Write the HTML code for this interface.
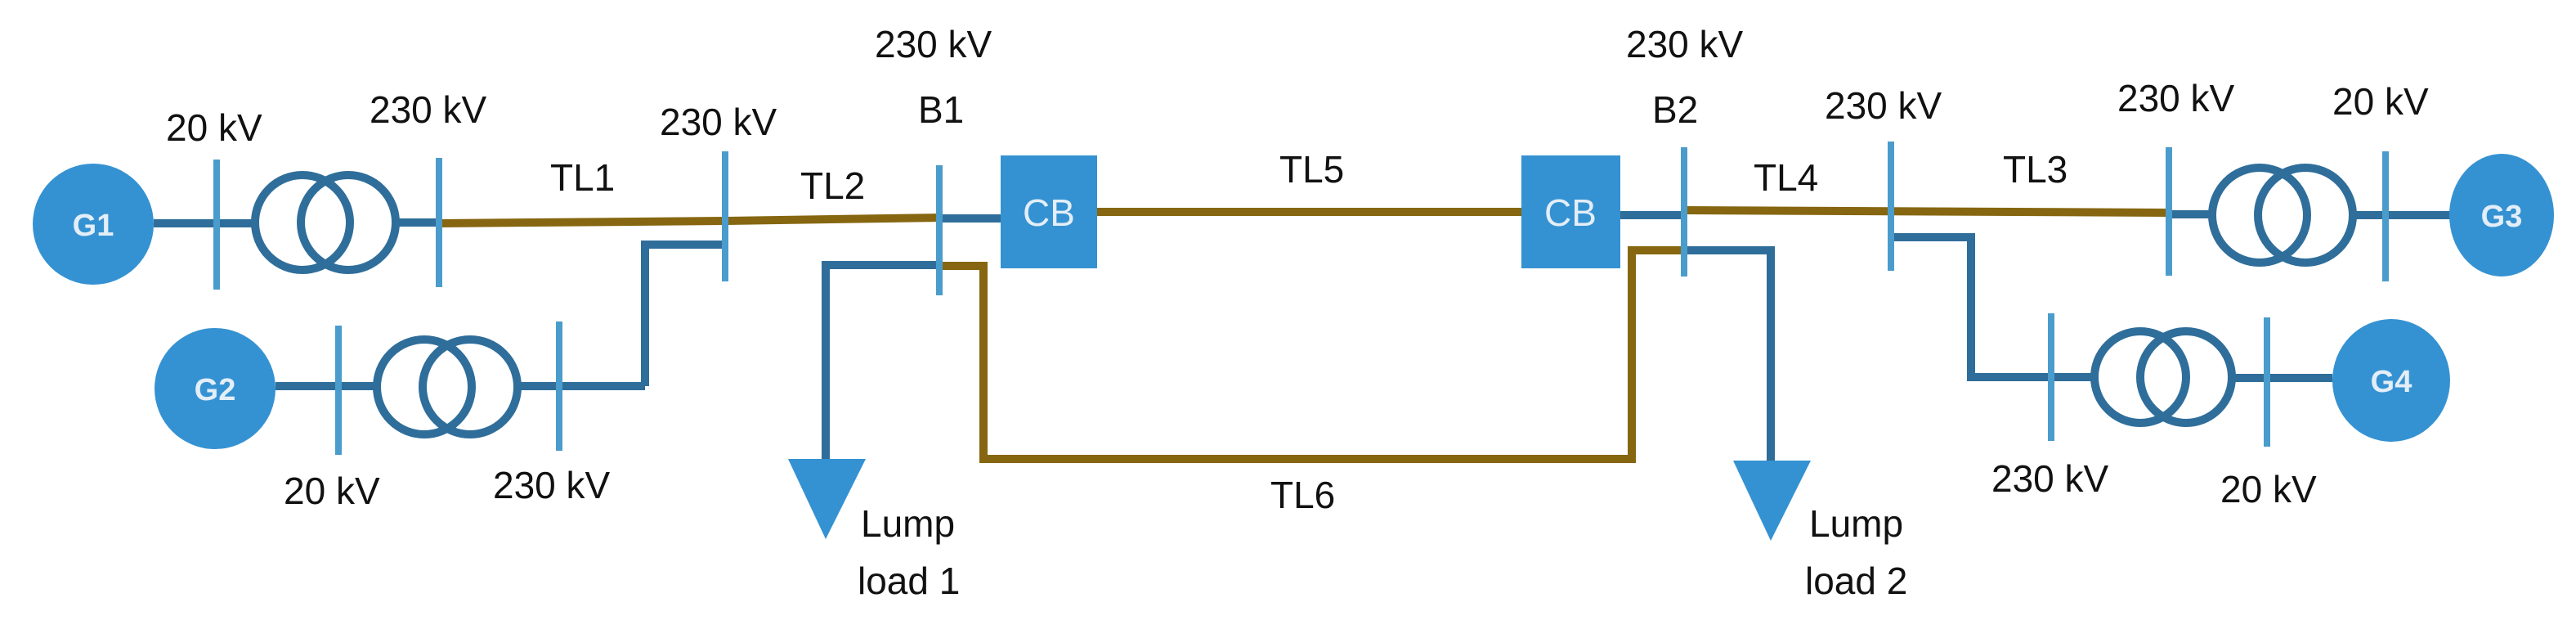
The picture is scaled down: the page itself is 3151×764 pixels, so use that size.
<!DOCTYPE html>
<html><head><meta charset="utf-8"><style>
html,body{margin:0;padding:0;background:#fff}
svg{display:block}
text{font-family:"Liberation Sans",sans-serif;font-size:46px;fill:#111}
.g{fill:#e3eef8;font-weight:bold;font-size:38px;text-anchor:middle}
.cb{fill:#e3eef8;font-size:46px;text-anchor:middle}
</style></head><body>
<svg width="3151" height="764" viewBox="0 0 3151 764" xmlns="http://www.w3.org/2000/svg">
<g fill="none" stroke-linejoin="miter">
<g stroke="#2f6e9a" stroke-width="10">
<line x1="188" y1="273" x2="312" y2="273"/>
<line x1="484" y1="272" x2="537" y2="272"/>
<line x1="337" y1="472" x2="459" y2="472"/>
<line x1="635" y1="472" x2="789" y2="472"/>
<polyline points="789,472 789,299 887,299"/>
<polyline points="1010,561 1010,324 1149,324"/>
<line x1="1149" y1="267" x2="1224" y2="267"/>
<line x1="1982" y1="263" x2="2059" y2="263"/>
<polyline points="2059,306 2166,306 2166,563"/>
<polyline points="2313,290 2411,290 2411,461 2562,461"/>
<line x1="2730" y1="462" x2="2853" y2="462"/>
<line x1="2653" y1="262" x2="2706" y2="262"/>
<line x1="2878" y1="263" x2="2997" y2="263"/>
<circle cx="370" cy="272" r="58"/><circle cx="426" cy="272" r="58"/>
<circle cx="519" cy="473" r="58"/><circle cx="575" cy="473" r="58"/>
<circle cx="2764" cy="263" r="58"/><circle cx="2820" cy="263" r="58"/>
<circle cx="2618" cy="461" r="56"/><circle cx="2674" cy="461" r="56"/>
</g>
<g stroke="#866610" stroke-width="10">
<polyline points="537,273 887,270 1149,266"/>
<line x1="1342" y1="259" x2="1861" y2="259"/>
<polyline points="1149,325 1203,325 1203,561 1996,561 1996,306 2059,306"/>
<line x1="2059" y1="257" x2="2653" y2="260"/>
</g>
<g stroke="#4a9ccc" stroke-width="8">
<line x1="265" y1="195" x2="265" y2="354"/>
<line x1="537" y1="193" x2="537" y2="351"/>
<line x1="887" y1="185" x2="887" y2="344"/>
<line x1="414" y1="398" x2="414" y2="556"/>
<line x1="684" y1="393" x2="684" y2="551"/>
<line x1="1149" y1="202" x2="1149" y2="361"/>
<line x1="2060" y1="180" x2="2060" y2="338"/>
<line x1="2313" y1="173" x2="2313" y2="331"/>
<line x1="2653" y1="180" x2="2653" y2="337"/>
<line x1="2918" y1="185" x2="2918" y2="344"/>
<line x1="2509" y1="383" x2="2509" y2="539"/>
<line x1="2773" y1="388" x2="2773" y2="546"/>
</g>
</g>
<g fill="#3592d2">
<circle cx="114" cy="274" r="74"/>
<circle cx="263" cy="475" r="74"/>
<ellipse cx="3060" cy="263" rx="64" ry="75"/>
<ellipse cx="2925" cy="465" rx="72" ry="75"/>
<rect x="1224" y="190" width="118" height="138"/>
<rect x="1861" y="190" width="121" height="138"/>
<polygon points="964,561 1059,561 1010,659"/>
<polygon points="2120,563 2215,563 2166,661"/>
</g>
<text class="g" x="114" y="288">G1</text>
<text class="g" x="263" y="489">G2</text>
<text class="g" x="3060" y="277">G3</text>
<text class="g" x="2925" y="479">G4</text>
<text class="cb" x="1283" y="276">CB</text>
<text class="cb" x="1921" y="276">CB</text>
<text x="203" y="172">20 kV</text>
<text x="452" y="150">230 kV</text>
<text x="807" y="165">230 kV</text>
<text x="673" y="233">TL1</text>
<text x="979" y="243">TL2</text>
<text x="347" y="616">20 kV</text>
<text x="603" y="609">230 kV</text>
<text x="1070" y="70">230 kV</text>
<text x="1123" y="150">B1</text>
<text x="1565" y="223">TL5</text>
<text x="1554" y="621">TL6</text>
<text x="1053" y="656">Lump</text>
<text x="1049" y="726">load 1</text>
<text x="1989" y="70">230 kV</text>
<text x="2021" y="150">B2</text>
<text x="2145" y="233">TL4</text>
<text x="2232" y="145">230 kV</text>
<text x="2450" y="223">TL3</text>
<text x="2590" y="136">230 kV</text>
<text x="2853" y="140">20 kV</text>
<text x="2436" y="601">230 kV</text>
<text x="2716" y="614">20 kV</text>
<text x="2213" y="656">Lump</text>
<text x="2208" y="726">load 2</text>
</svg>
</body></html>
